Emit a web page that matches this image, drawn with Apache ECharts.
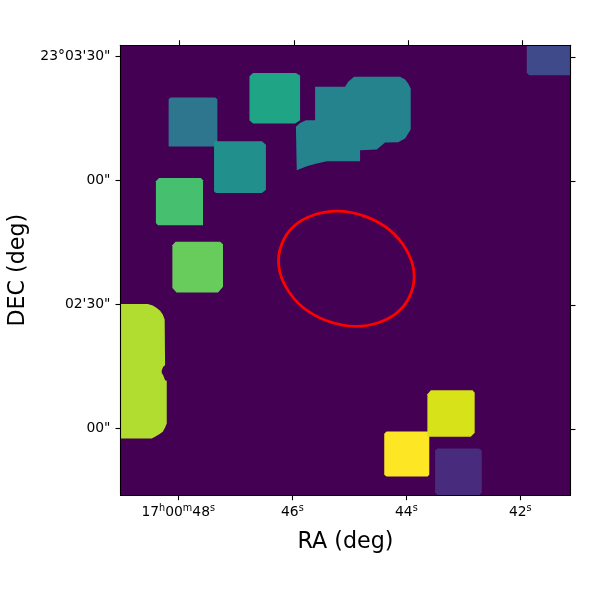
<!DOCTYPE html>
<html>
<head>
<meta charset="utf-8">
<style>html,body{margin:0;padding:0;background:#fff}#c{width:600px;height:600px}</style>
<script src="https://cdn.jsdelivr.net/npm/echarts@6/dist/echarts.min.js"></script>
</head>
<body>
<div id="c"></div>
<script>
// Image pixels of the segmentation map (216 x 216)
const imageSize = [216, 216];
const bottomTicks = [27.7, 82.5, 137.2, 191.9];
const topTicks = [28.2, 83.6, 138.3, 192.9];
const leftTicks = [210.7, 151.1, 91.6, 32.0];
const rightTicks = [210.2, 150.6, 91.0, 31.5];
const raLabels = ['{n|17}{s|h}{n|00}{s|m}{n|48}{s|s}', '{n|46}{s|s}', '{n|44}{s|s}', '{n|42}{s|s}'];
const decLabels = ['23°03\'30"', '00"', '02\'30"', '00"'];

const segYellow = [[127.7,30.6],[148.2,30.6],[148.2,9.8],[147.4,9],[127.7,9],[126.6,9.8],[126.6,29.5]];
const segYellowLime = [[149,50.4],[169,50.4],[170,49.2],[170,30],[168.1,28],[147.3,28],[147.3,48.5]];
const segLime = [[0,91.8],[13.1,91.8],[15.5,91.1],[17.4,89.8],[19,88.5],[20.3,86.7],[21.2,84.3],[21.4,62.4],[20.5,61.6],[19.8,60],[19.8,58.7],[20.5,57.6],[21.4,55.2],[22.2,54.9],[22.2,34.4],[21.4,32.5],[20.3,30.4],[18.6,29.3],[17,28.3],[15,27.2],[0,27.2]];
const segLightGreen = [[26.4,121.6],[47.8,121.6],[49.2,120.5],[49.2,100.1],[46.8,97.3],[26.9,97.3],[24.9,99.4],[24.9,120]];
const segGreen = [[18.5,152.2],[38.6,152.2],[39.6,151.2],[39.6,129.6],[18,129.6],[17,130.6],[17,150.7]];
const segSeaGreen = [[63.6,202.6],[84.2,202.6],[86.2,201.4],[86.2,180],[83.8,178.4],[63.6,178.4],[61.9,180],[61.9,201.1]];
const segTeal = [[44.9,169.9],[67.9,169.9],[69.8,168.2],[69.8,146.6],[67.9,145],[45.8,145],[44.9,145.9]];
const segBigTeal = [[93.4,196],[107.8,196],[109.3,198.4],[112.1,200.8],[134.2,200.8],[136.6,199.5],[138.1,197.6],[139.3,195.2],[139.3,175.5],[138.1,173.6],[136.6,171.2],[133.3,169.4],[127,169.3],[123,165.9],[115,165.6],[115,160.3],[99,160.3],[94.2,159.2],[89.4,157.9],[84.6,156],[84.2,176.8],[86.2,178.7],[89,180],[93.4,180]];
const segBlue = [[24,190.9],[45.5,190.9],[46.5,190],[46.5,167.4],[23.1,167.4],[23.1,190]];
const segSlate = [[195,216],[216,216],[216,201.6],[196.1,201.6],[195,202.8]];
const segPurple = [[152.2,22.4],[172.1,22.4],[173.4,21.4],[173.4,1.4],[172.3,0],[152.2,0],[151,1.4],[151,21.4]];

const segments = [segPurple, segSlate, segBlue, segBigTeal, segTeal, segSeaGreen, segGreen, segLightGreen, segLime, segYellow, segYellowLime];
const segmentColors = ['#482b7c', '#3e4a89', '#2d768e', '#25838e', '#21908c', '#20a486', '#46c06f', '#67cc5c', '#b0dd2f', '#fde725', '#d8e219'];

// Red aperture: centre, semi-axes and tilt in image pixels / degrees
const apertureCentre = [108.4, 108.7];
const apertureAxes = [33.2, 26.7];
const apertureTilt = 20.6;

const font = 'DejaVu Sans';
const tickCommon = {show: true, length: 5, inside: false, lineStyle: {color: '#000', width: 1.1}};
const lineCommon = {show: true, onZero: false, lineStyle: {color: '#000', width: 1.1}};

function xAxisOf(position, ticks, withLabels) {
  return {
    type: 'value', position, min: 0, max: imageSize[0], z: 10,
    splitLine: {show: false}, axisLine: lineCommon,
    axisTick: Object.assign({customValues: ticks}, tickCommon),
    axisLabel: withLabels ? {
      show: true, customValues: ticks, margin: 8, color: '#000', fontFamily: font, fontSize: 13.9,
      hideOverlap: false, showMinLabel: true, showMaxLabel: true,
      formatter: v => raLabels[ticks.indexOf(v)],
      rich: {n: {fontSize: 13.9, fontFamily: font, color: '#000', height: 18, lineHeight: 18},
             s: {fontSize: 9.7, fontFamily: font, color: '#000', verticalAlign: 'top', height: 10, lineHeight: 10}}
    } : {show: false}
  };
}
function yAxisOf(position, ticks, withLabels) {
  return {
    type: 'value', position, min: 0, max: imageSize[1], z: 10,
    splitLine: {show: false}, axisLine: lineCommon,
    axisTick: Object.assign({customValues: ticks}, tickCommon),
    axisLabel: withLabels ? {
      show: true, customValues: ticks, margin: 10, color: '#000', fontFamily: font, fontSize: 13.9,
      formatter: v => decLabels[ticks.indexOf(v)]
    } : {show: false}
  };
}

const chart = echarts.init(document.getElementById('c'), null, {renderer: 'canvas'});
chart.setOption({
  animation: false,
  backgroundColor: '#fff',
  grid: {left: 120.5, top: 45.2, width: 450, height: 450, show: true, backgroundColor: '#440154', borderWidth: 0, outerBoundsMode: 'none', containLabel: false},
  xAxis: [
    Object.assign(xAxisOf('bottom', bottomTicks, true), {name: 'RA (deg)', nameLocation: 'middle', nameGap: 36, nameTextStyle: {fontFamily: font, fontSize: 22.2, color: '#000'}}),
    xAxisOf('top', topTicks, false)
  ],
  yAxis: [
    Object.assign(yAxisOf('left', leftTicks, true), {name: 'DEC (deg)', nameLocation: 'middle', nameGap: 91, nameTextStyle: {fontFamily: font, fontSize: 22.2, color: '#000'}}),
    yAxisOf('right', rightTicks, false)
  ],
  series: [
    {
      type: 'custom', coordinateSystem: 'cartesian2d', xAxisIndex: 0, yAxisIndex: 0, clip: true, silent: true,
      data: segments.map((s, i) => [s[0][0], s[0][1], i]),
      renderItem(params, api) {
        const i = params.dataIndex;
        return {
          type: 'polygon',
          shape: {points: segments[i].map(p => api.coord(p))},
          style: {fill: segmentColors[i], stroke: null}
        };
      }
    },
    {
      type: 'custom', coordinateSystem: 'cartesian2d', xAxisIndex: 0, yAxisIndex: 0, clip: true, silent: true,
      data: [apertureCentre],
      renderItem(params, api) {
        const c = api.coord(apertureCentre);
        const o = api.coord([0, 0]);
        const u = api.coord([1, 1]);
        const sx = u[0] - o[0], sy = o[1] - u[1];
        return {
          type: 'ellipse',
          shape: {cx: 0, cy: 0, rx: apertureAxes[0] * sx, ry: apertureAxes[1] * sy},
          x: c[0], y: c[1], rotation: -apertureTilt * Math.PI / 180,
          style: {fill: 'none', stroke: '#ff0000', lineWidth: 2.8}
        };
      }
    }
  ]
});
</script>
</body>
</html>
